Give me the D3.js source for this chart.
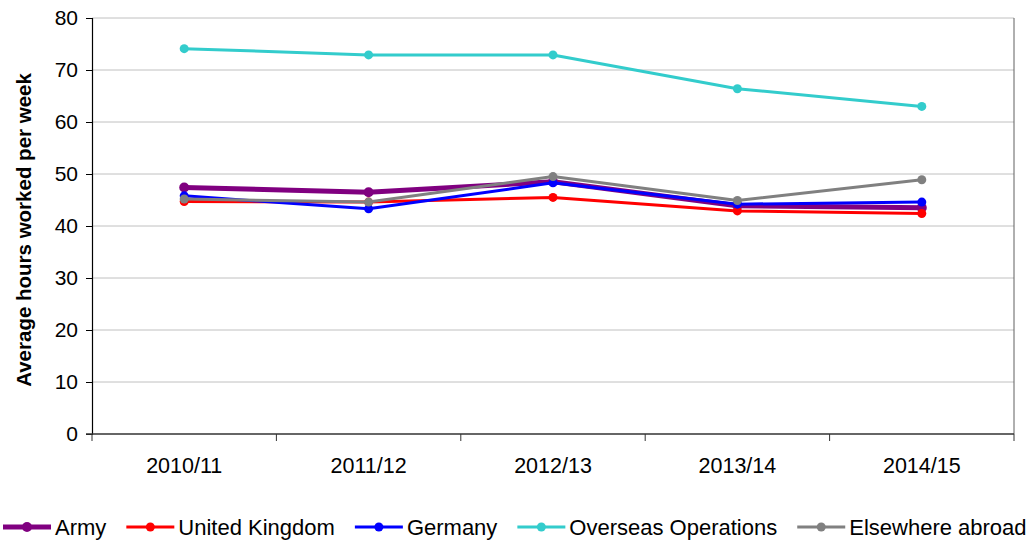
<!DOCTYPE html>
<html>
<head>
<meta charset="utf-8">
<script src="https://cdn.jsdelivr.net/npm/d3@7"></script>
<style>
  body { margin: 0; background: #fff; }
  svg { display: block; font-family: "Liberation Sans", Arial, sans-serif; }
</style>
</head>
<body>
<div id="chart"></div>
<script>
const years = ["2010/11", "2011/12", "2012/13", "2013/14", "2014/15"];
const army = [47.4, 46.5, 48.5, 43.9, 43.5];
const unitedKingdom = [44.7, 44.6, 45.5, 42.9, 42.4];
const germany = [45.8, 43.3, 48.3, 44.2, 44.6];
const overseasOps = [74.1, 72.9, 72.9, 66.4, 63.0];
const elsewhereAbroad = [45.2, 44.6, 49.5, 44.9, 48.9];
const yTicks = [0, 10, 20, 30, 40, 50, 60, 70, 80];

const series = [
    { name: "Army", values: army, color: "#800080", width: 5, r: 5 },
    { name: "United Kingdom", values: unitedKingdom, color: "#ff0000", width: 3, r: 4.5 },
    { name: "Germany", values: germany, color: "#0000ff", width: 3, r: 4.5 },
    { name: "Overseas Operations", values: overseasOps, color: "#33cccc", width: 3, r: 4.5 },
    { name: "Elsewhere abroad", values: elsewhereAbroad, color: "#808080", width: 3, r: 4.5 },
];

const W = 1030, H = 542;
const plotL = 92, plotR = 1014, plotT = 18, plotB = 434;

const svg = d3.select("#chart").append("svg").attr("width", W).attr("height", H);

const x = d3.scaleBand().domain(years).range([plotL, plotR]).padding(0);
const y = d3.scaleLinear().domain([0, 80]).range([plotB, plotT]);

// gridlines
svg.append("g").selectAll("line").data(yTicks.filter(d => d > 0)).enter().append("line")
    .attr("x1", plotL).attr("x2", plotR)
    .attr("y1", d => y(d)).attr("y2", d => y(d))
    .attr("stroke", "#c0c0c0").attr("stroke-width", 1);

// right border
svg.append("line")
    .attr("x1", plotR).attr("x2", plotR).attr("y1", plotT).attr("y2", plotB)
    .attr("stroke", "#606060").attr("stroke-width", 1);

// y axis
const yAxis = svg.append("g").attr("transform", `translate(${plotL},0)`)
    .call(d3.axisLeft(y).tickValues(yTicks).tickSize(6).tickPadding(8));
yAxis.select(".domain").attr("stroke", "#000").attr("stroke-width", 1.2);
yAxis.selectAll(".tick line").attr("stroke", "#000");
yAxis.selectAll("text").attr("font-size", 21).attr("fill", "#000")
    .attr("font-family", "Liberation Sans, Arial, sans-serif");

// x axis: ticks at category boundaries
const xg = svg.append("g");
xg.append("line").attr("x1", plotL - 6).attr("x2", plotR).attr("y1", plotB).attr("y2", plotB)
    .attr("stroke", "#333").attr("stroke-width", 1.6);
const bounds = years.map(d => x(d)).concat([plotR]);
xg.selectAll("line.tk").data(bounds).enter().append("line").attr("class", "tk")
    .attr("x1", d => d).attr("x2", d => d).attr("y1", plotB).attr("y2", plotB + 7)
    .attr("stroke", "#333");
xg.selectAll("text").data(years).enter().append("text")
    .attr("x", d => x(d) + x.bandwidth() / 2).attr("y", 473)
    .attr("text-anchor", "middle").attr("font-size", 21.5).attr("fill", "#000")
    .text(d => d);

// y title
svg.append("text")
    .attr("transform", `translate(31,${(plotT + plotB) / 2 + 4}) rotate(-90)`)
    .attr("text-anchor", "middle").attr("font-size", 20.5).attr("font-weight", "bold")
    .text("Average hours worked per week");

// lines
const line = d3.line().x((d, i) => x(years[i]) + x.bandwidth() / 2).y(d => y(d));
series.forEach(s => {
    const g = svg.append("g");
    g.append("path").datum(s.values).attr("d", line)
        .attr("fill", "none").attr("stroke", s.color).attr("stroke-width", s.width)
        .attr("stroke-linejoin", "round");
    g.selectAll("circle").data(s.values).enter().append("circle")
        .attr("cx", (d, i) => x(years[i]) + x.bandwidth() / 2).attr("cy", d => y(d))
        .attr("r", s.r).attr("fill", s.color);
});

// legend
const legend = svg.append("g");
let lx = 3;
const ly = 527;
series.forEach(s => {
    const g = legend.append("g");
    g.append("line").attr("x1", lx).attr("x2", lx + 48).attr("y1", ly).attr("y2", ly)
        .attr("stroke", s.color).attr("stroke-width", s.width);
    g.append("circle").attr("cx", lx + 24).attr("cy", ly).attr("r", s.r).attr("fill", s.color);
    const t = g.append("text").attr("x", lx + 52).attr("y", ly + 8)
        .attr("font-size", 22).attr("fill", "#000").text(s.name);
    lx = lx + 52 + t.node().getComputedTextLength() + 20;
});
</script>
</body>
</html>
